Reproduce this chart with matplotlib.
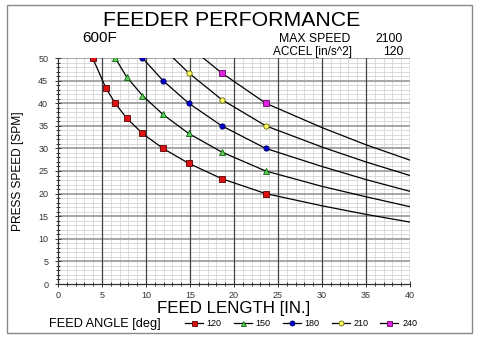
import matplotlib
matplotlib.use("Agg")
import matplotlib.pyplot as plt
from matplotlib.patches import Rectangle
from matplotlib.ticker import MultipleLocator
import numpy as np

plt.rcParams['font.family'] = ['Liberation Sans', 'DejaVu Sans']

# ---- data ----
angles = ["120", "150", "180", "210", "240"]

x_120 = [3.94, 5.45, 6.5, 7.8, 9.6, 11.93, 14.85, 18.6, 23.6]
y_120 = [50, 43.3, 40, 36.7, 33.3, 30, 26.7, 23.3, 20]
x_150 = [6.5, 7.8, 9.6, 11.93, 14.85, 18.6, 23.6]
y_150 = [50, 45.8, 41.7, 37.5, 33.3, 29.2, 25]
x_180 = [9.6, 11.93, 14.85, 18.6, 23.6]
y_180 = [50, 45, 40, 35, 30]
x_210 = [14.85, 18.6, 23.6]
y_210 = [46.7, 40.8, 35]
x_240 = [18.6, 23.6]
y_240 = [46.7, 40]

# curve start points at the top edge (line only)
head_210 = (13.1, 50)
head_240 = (16.5, 50)

# curve continuation beyond the last marker (line only)
tail_x = [30, 35, 40]
tail_120 = [17.3, 15.4, 13.7]
tail_150 = [21.6, 19.3, 17.1]
tail_180 = [26.0, 23.1, 20.5]
tail_210 = [30.3, 27.0, 24.0]
tail_240 = [34.6, 30.8, 27.4]

series = [
    (x_120, y_120, None, tail_120, 's', '#DD1111', '#5A0000'),
    (x_150, y_150, None, tail_150, '^', '#66CC66', '#006600'),
    (x_180, y_180, None, tail_180, 'o', '#0000CC', '#000066'),
    (x_210, y_210, head_210, tail_210, 'o', '#FFFF66', '#666600'),
    (x_240, y_240, head_240, tail_240, 's', '#DD22DD', '#660066'),
]

fig = plt.figure(figsize=(4.82, 3.40), dpi=100)
fig.patch.set_facecolor('white')
ax = fig.add_axes([58/482, 1-284/340, (410-58)/482, (284-58)/340])

ax.set_xlim(0, 40)
ax.set_ylim(0, 50)
ax.xaxis.set_major_locator(MultipleLocator(5))
ax.yaxis.set_major_locator(MultipleLocator(5))
ax.xaxis.set_minor_locator(MultipleLocator(1))
ax.yaxis.set_minor_locator(MultipleLocator(1))

# grid drawn explicitly so the layering matches the reference
for v in np.arange(1, 40, 1):
    if v % 5:
        ax.axvline(v, color='#D6D6D6', lw=0.6, zorder=0.5)
for v in np.arange(1, 50, 1):
    if v % 5:
        ax.axhline(v, color='#D6D6D6', lw=0.6, zorder=0.5)
for v in np.arange(5, 51, 5):
    ax.axhline(v, color='#A0A0A0', lw=1.3, zorder=0.8)
for v in np.arange(5, 40, 5):
    ax.axvline(v, color='#444444', lw=0.9, zorder=0.9)
ax.axvline(40, color='#999999', lw=1.0, zorder=0.9)

for s in ['top', 'right']:
    ax.spines[s].set_visible(False)
for s in ['left', 'bottom']:
    ax.spines[s].set_color('#333333')
    ax.spines[s].set_linewidth(0.9)

ax.tick_params(which='both', direction='inout', color='#333333', width=0.7,
               labelsize=6.5, labelcolor='#333333')
ax.tick_params(which='major', length=4)
ax.tick_params(which='minor', length=3)
ax.tick_params(axis='y', which='major', pad=5)
ax.tick_params(axis='x', which='major', pad=3)

handles = []
for (xs, ys, head, tail, mk, fc, ec), lab in zip(series, angles):
    lx = ([head[0]] if head else []) + list(xs) + tail_x
    ly = ([head[1]] if head else []) + list(ys) + tail
    ax.plot(lx, ly, color='black', lw=0.9, zorder=3)
    ax.plot(xs, ys, ls='none', marker=mk, ms=3.8, mfc=fc, mec=ec, mew=0.6, zorder=4)
    h, = ax.plot([], [], color='black', lw=0.9, marker=mk, ms=3.6, mfc=fc, mec=ec, mew=0.6)
    handles.append(h)

ax.set_xlabel('FEED LENGTH [IN.]', fontsize=12.2, labelpad=1)
ax.set_ylabel('PRESS SPEED [SPM]', fontsize=8.6,
              family=['Liberation Sans Narrow', 'Liberation Sans', 'DejaVu Sans'], labelpad=10)

fig.text(232/482, 1-20/340, 'FEEDER PERFORMANCE', ha='center', va='center', fontsize=15.3)
fig.text(82/482, 1-38/340, '600F', ha='left', va='center', fontsize=11)
fig.text(279/482, 1-39/340, 'MAX SPEED', ha='left', va='center', fontsize=8.8)
fig.text(403/482, 1-39/340, '2100', ha='right', va='center', fontsize=8.8)
fig.text(273/482, 1-52/340, 'ACCEL [in/s^2]', ha='left', va='center', fontsize=8.5)
fig.text(403/482, 1-52/340, '120', ha='right', va='center', fontsize=8.8)
fig.text(49/482, 1-324/340, 'FEED ANGLE [deg]', ha='left', va='center', fontsize=9.2)

fig.legend(handles, angles, loc='center left', bbox_to_anchor=(185/482, 1-324/340),
           ncol=5, frameon=False, fontsize=6.5, handlelength=2.0, handletextpad=0.4,
           columnspacing=1.35, borderpad=0, borderaxespad=0)

fig.patches.append(Rectangle((7/482, 1-333/340), (472-7)/482, (333-5)/340,
                             transform=fig.transFigure, fill=False,
                             edgecolor='#888888', lw=1.0))

fig.savefig('out.png', dpi=100)
